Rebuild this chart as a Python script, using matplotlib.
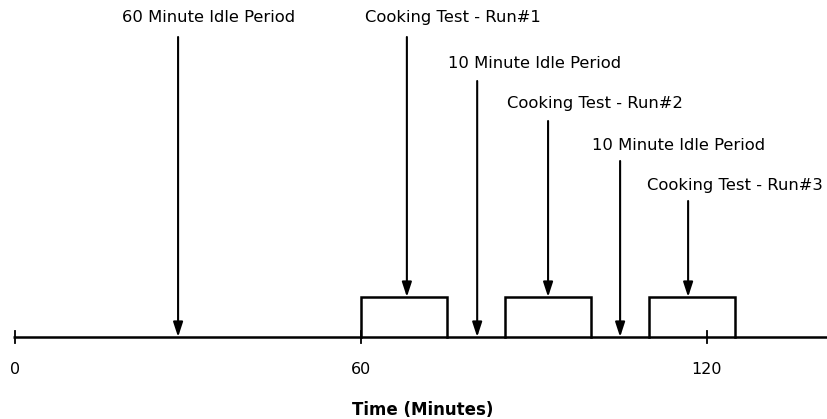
import matplotlib
matplotlib.use('Agg')
import matplotlib.pyplot as plt
from matplotlib.patches import FancyArrowPatch

# timeline data (minutes)
run_starts = [60, 85, 110]
run_length = 15
tick_values = [0, 60, 120]

event_labels = ['60 Minute Idle Period', 'Cooking Test - Run#1',
                '10 Minute Idle Period', 'Cooking Test - Run#2',
                '10 Minute Idle Period', 'Cooking Test - Run#3']
arrow_x = [28.3, 68, 80.2, 92.5, 105, 116.8]
arrow_top = [7.5, 7.5, 6.4, 5.4, 4.4, 3.4]
arrow_end = [0, 1, 0, 1, 0, 1]  # 0 = baseline, 1 = top of test box
label_x = [33.6, 76.0, 90.2, 100.7, 115.2, 124.9]
label_y = [8.0, 8.0, 6.85, 5.85, 4.8, 3.78]

fig = plt.figure(figsize=(8.27, 4.19), dpi=100)
ax = fig.add_axes([0, 0, 1, 1])
ax.set_xlim(-2.6, 140.9)
ax.set_ylim(-2.05, 8.425)
ax.axis('off')

lw = 1.8
# baseline
ax.plot([-0.4, 140.9], [0, 0], color='black', lw=lw, solid_capstyle='butt')
# tick marks
for t in tick_values:
    ax.plot([t, t], [-0.15, 0.15], color='black', lw=1.3)
    ax.text(t, -0.8, str(t), ha='center', va='center', fontsize=11.5)

# cooking test boxes
for s in run_starts:
    ax.plot([s, s, s + run_length, s + run_length], [0, 1, 1, 0],
            color='black', lw=lw, solid_joinstyle='miter')

# arrows and labels
for i in range(len(event_labels)):
    arr = FancyArrowPatch((arrow_x[i], arrow_top[i]),
                          (arrow_x[i], arrow_end[i]),
                          arrowstyle='-|>,head_length=0.55,head_width=0.18',
                          mutation_scale=16,
                          color='black', lw=1.5, shrinkA=0, shrinkB=0)
    ax.add_patch(arr)
    ax.text(label_x[i], label_y[i], event_labels[i], ha='center',
            va='center', fontsize=11.8)

ax.text(70.7, -1.82, 'Time (Minutes)', ha='center', va='center',
        fontsize=12, fontweight='bold')

plt.savefig('out.png', dpi=100)
